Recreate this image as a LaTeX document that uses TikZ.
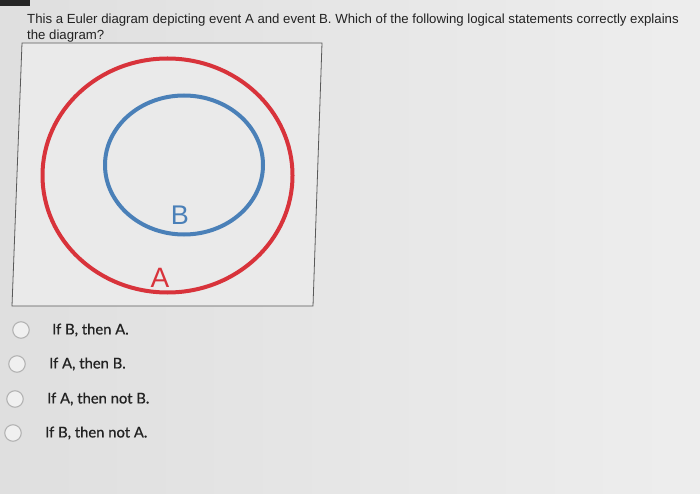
\documentclass[tikz,border=0pt]{standalone}
\usepackage{fontspec}
\setmainfont{Liberation Sans}
\newfontfamily\optfont{Lato}[FakeBold=0.6]
\definecolor{bgc}{HTML}{E6E6E6}
\definecolor{redA}{HTML}{D8333B}
\definecolor{blueB}{HTML}{4A80B8}
\definecolor{txt}{HTML}{222222}
\definecolor{radio}{HTML}{B4B4B4}
\begin{document}
\begin{tikzpicture}[x=1pt,y=-1pt,
  qtext/.style={anchor=base west,inner sep=0pt,text=txt,font=\fontsize{13.2}{16}\selectfont},
  opt/.style={anchor=west,inner sep=0pt,text=txt,font=\optfont\fontsize{14.8}{18}\selectfont},
  radiobtn/.style={draw=radio,line width=1.1pt,fill=bgc!60!white,circle,minimum size=16.5pt,inner sep=0pt}]
\useasboundingbox (0,0) rectangle (700,494);
\shade[left color=bgc!97!black,right color=bgc!70!white] (0,0) rectangle (700,494);
\fill[black!85] (0,0) rectangle (30,6);
% question
\node[qtext] (q1) at (27,24) {This a Euler diagram depicting event A and event B. Which of the following logical statements correctly explains};
\node[qtext] (q2) at (27,40) {the diagram?};
% frame
\draw[black!65,line width=0.8pt,fill=bgc!85!white] (22,43) coordinate (f1) -- (322,43) coordinate (f2) -- (313,306) coordinate (f3) -- (12,306) coordinate (f4) -- cycle;
% circles
\draw[redA,line width=4pt] (167.5,175.5) ellipse [x radius=125,y radius=117];
\draw[blueB,line width=4pt] (184,165) ellipse [x radius=79,y radius=69.5];
\node[text=blueB,font=\fontsize{27}{30}\selectfont,inner sep=0pt] (B) at (180,215) {B};
\node[text=redA,font=\fontsize{28}{30}\selectfont,inner sep=0pt] (A) at (160,278) {A};
% options
\node[radiobtn] (r1) at (21,330) {};
\node[radiobtn] (r2) at (17,364) {};
\node[radiobtn] (r3) at (15,399) {};
\node[radiobtn] (r4) at (13,433) {};
\node[opt] (o1) at (52,330) {If B, then A.};
\node[opt] (o2) at (49,364) {If A, then B.};
\node[opt] (o3) at (47,399) {If A, then not B.};
\node[opt] (o4) at (45,433) {If B, then not A.};
\end{tikzpicture}
\end{document}
